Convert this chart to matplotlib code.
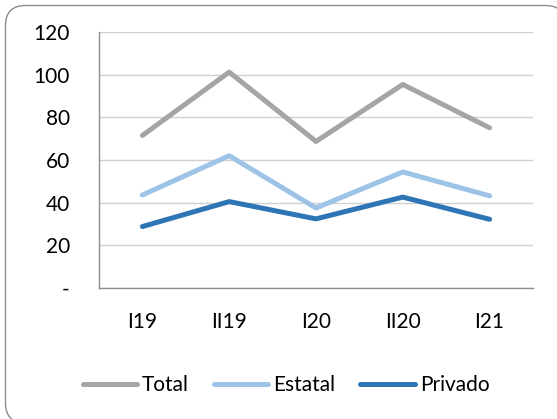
import matplotlib
matplotlib.use("Agg")
import matplotlib.pyplot as plt
from matplotlib.patches import FancyBboxPatch
from matplotlib.transforms import IdentityTransform

periods = ["I19", "II19", "I20", "II20", "I21"]
total = [71.5, 101.2, 68.7, 95.4, 75.1]
estatal = [43.6, 62.0, 37.5, 54.4, 43.2]
privado = [28.8, 40.5, 32.4, 42.6, 32.2]
y_ticks = [0, 20, 40, 60, 80, 100, 120]
y_labels = ["-", "20", "40", "60", "80", "100", "120"]

plt.rcParams["font.family"] = ["Lato", "DejaVu Sans"]
FS = 15

W, H = 557, 419
fig = plt.figure(figsize=(W / 100, H / 100), dpi=100)

# rounded chart frame (pixel coordinates), running off the right/bottom edge
frame = FancyBboxPatch((5.5, -4), 560, H - 5.5 + 4,
                       boxstyle="round,pad=0,rounding_size=20",
                       transform=IdentityTransform(), facecolor="white",
                       edgecolor="#8c8c8c", linewidth=1.0, zorder=-10)
fig.patches.append(frame)

ax = fig.add_axes([99 / W, 1 - 288 / H, (533 - 99) / W, (288 - 32) / H])
ax.set_facecolor("none")

x = range(len(periods))
ax.plot(x, total, color="#A5A5A5", lw=3.6, solid_capstyle="round", label="Total")
ax.plot(x, estatal, color="#9DC3E6", lw=3.6, solid_capstyle="round", label="Estatal")
ax.plot(x, privado, color="#2E75B6", lw=3.6, solid_capstyle="round", label="Privado")

ax.set_xlim(-0.5, len(periods) - 0.5)
ax.set_ylim(0, 120)
ax.set_xticks(list(x))
ax.set_xticklabels(periods)
ax.set_yticks(y_ticks)
ax.set_yticklabels(y_labels)
ax.tick_params(axis="both", length=0, labelsize=FS, colors="#000000")
ax.tick_params(axis="x", pad=17)
ax.tick_params(axis="y", pad=21)

ax.grid(axis="y", color="#d0d0d0", lw=1.0)
ax.set_axisbelow(True)
for side in ("top", "right"):
    ax.spines[side].set_visible(False)
for side in ("left", "bottom"):
    ax.spines[side].set_color("#8c8c8c")
    ax.spines[side].set_linewidth(1.0)

leg = fig.legend(loc="center", bbox_to_anchor=(286 / W, 1 - 385 / H), ncol=3,
                 frameon=False, fontsize=FS, handlelength=2.6,
                 handletextpad=0.25, columnspacing=1.2)

fig.savefig("out.png", dpi=100)
